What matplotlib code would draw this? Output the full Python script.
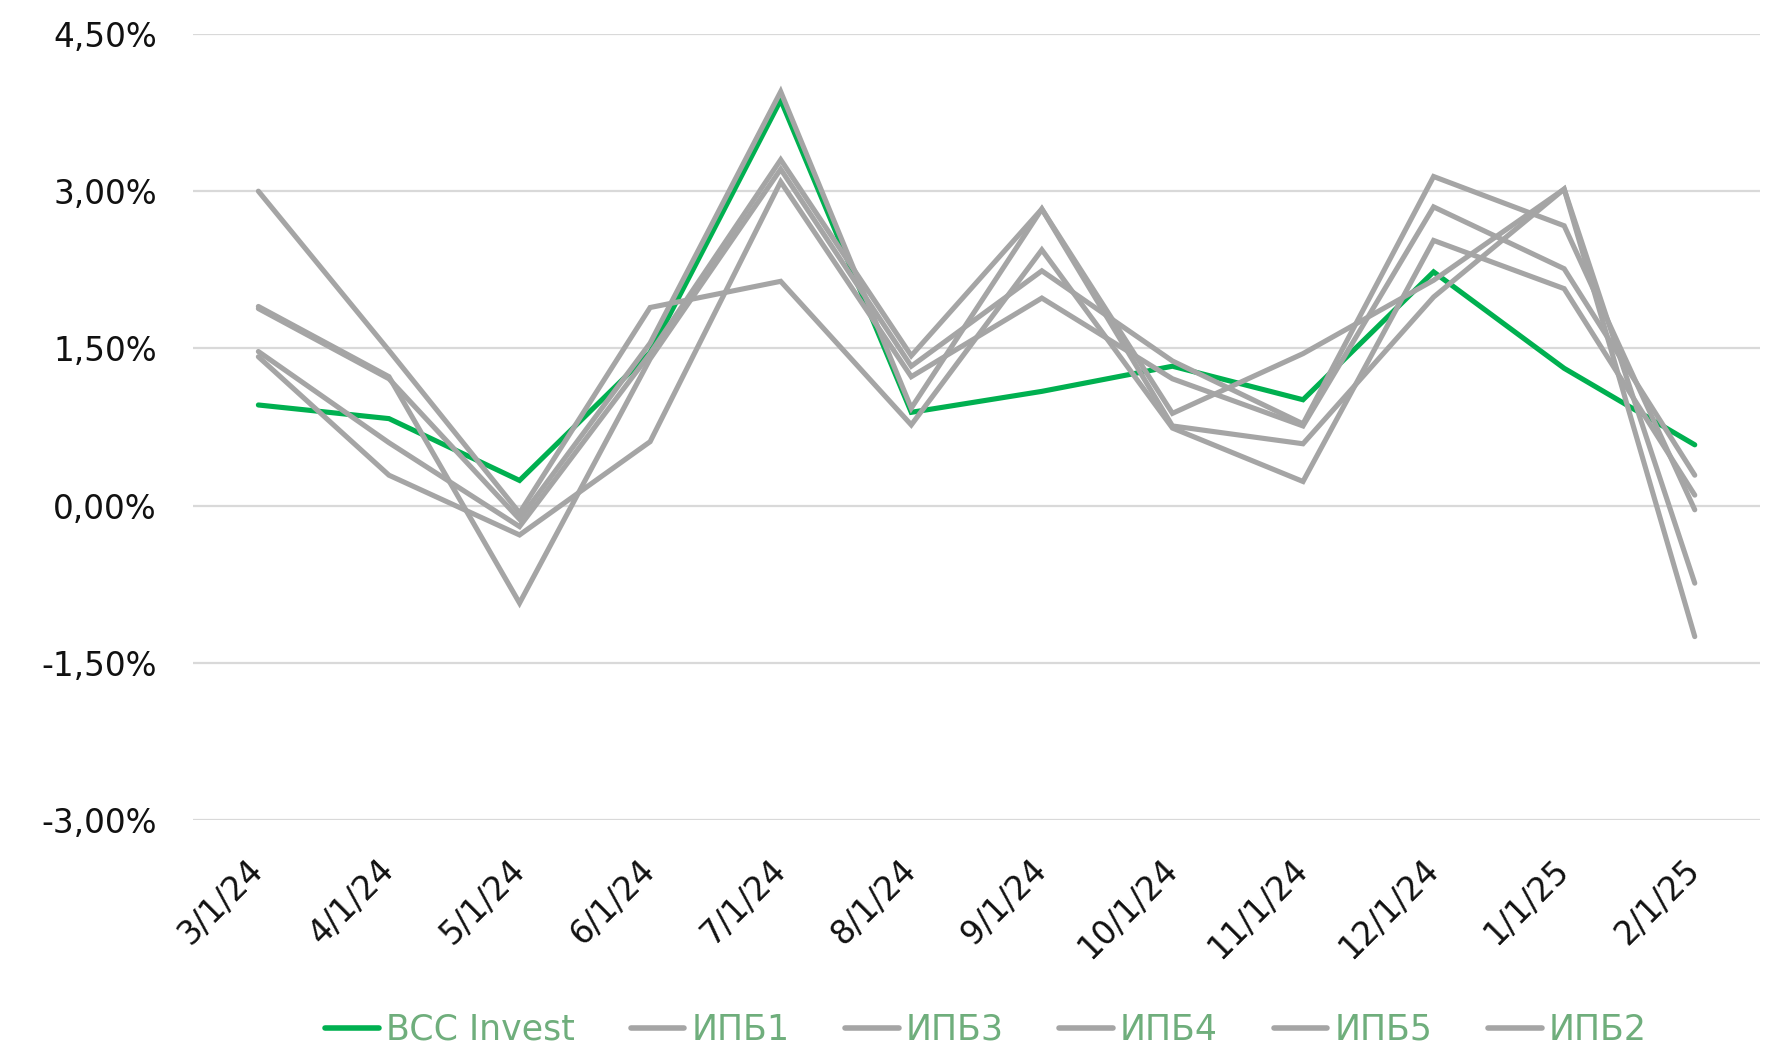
import matplotlib
matplotlib.use("Agg")
import matplotlib.pyplot as plt
from matplotlib.ticker import FuncFormatter, FixedLocator

# ---- data ----
dates = ['3/1/24', '4/1/24', '5/1/24', '6/1/24', '7/1/24', '8/1/24',
         '9/1/24', '10/1/24', '11/1/24', '12/1/24', '1/1/25', '2/1/25']

bcc_invest = [0.96, 0.83, 0.24, 1.46, 3.87, 0.89, 1.09, 1.33, 1.01, 2.23, 1.31, 0.58]
ipb1 = [3.00, 1.48, -0.07, 1.89, 2.14, 0.77, 2.44, 0.74, 0.23, 2.53, 2.07, 0.10]
ipb3 = [1.90, 1.23, -0.93, 1.40, 3.21, 1.33, 2.24, 1.38, 0.78, 3.14, 2.67, -0.04]
ipb4 = [1.88, 1.21, -0.13, 1.55, 3.95, 0.93, 2.83, 0.76, 0.59, 1.99, 3.02, -1.25]
ipb5 = [1.47, 0.60, -0.20, 1.45, 3.30, 1.43, 2.83, 0.88, 1.45, 2.15, 3.02, -0.74]
ipb2 = [1.42, 0.29, -0.28, 0.61, 3.09, 1.23, 1.98, 1.21, 0.76, 2.85, 2.26, 0.29]

series_names = ['BCC Invest', 'ИПБ1', 'ИПБ3', 'ИПБ4', 'ИПБ5', 'ИПБ2']
series_values = [bcc_invest, ipb1, ipb3, ipb4, ipb5, ipb2]

y_ticks = [-3.0, -1.5, 0.0, 1.5, 3.0, 4.5]

# ---- style ----
GREEN = '#00B050'
GRAY = '#A5A5A5'
GRID = '#D9D9D9'
LEGEND_TEXT = '#6FAE7C'

plt.rcParams['font.family'] = ['DejaVu Sans']

fig = plt.figure(figsize=(17.78, 10.49), dpi=100)
ax = fig.add_axes([0.1086, 0.2183, 0.9899 - 0.1086, 0.9676 - 0.2183])

x = list(range(len(dates)))
colors = [GREEN] + [GRAY] * 5
for name, vals, c in zip(series_names, series_values, colors):
    ax.plot(x, vals, color=c, lw=3.7, label=name,
            solid_capstyle='round', solid_joinstyle='miter')

ax.set_xlim(-0.5, len(dates) - 0.5)
ax.set_ylim(y_ticks[0], y_ticks[-1])
ax.yaxis.set_major_locator(FixedLocator(y_ticks))
ax.yaxis.set_major_formatter(FuncFormatter(lambda v, p: f"{v:.2f}".replace('.', ',') + '%'))
ax.grid(axis='y', color=GRID, lw=1.6)
ax.set_axisbelow(True)
for s in ax.spines.values():
    s.set_visible(False)

ax.set_xticks(x)
ax.set_xticklabels(dates, rotation=45, ha='right', va='center', rotation_mode='anchor')
ax.tick_params(axis='x', length=0, pad=32, labelsize=23.5, labelcolor='#111111')
ax.tick_params(axis='y', length=0, pad=26, labelsize=23.5, labelcolor='#111111')

leg = ax.legend(loc='center', bbox_to_anchor=(0.506, -0.267), ncol=6, frameon=False,
                fontsize=25, handlelength=1.55, handletextpad=0.2, columnspacing=1.6)
for t in leg.get_texts():
    t.set_color(LEGEND_TEXT)
for h in leg.get_lines():
    h.set_linewidth(4)
    h.set_solid_capstyle('round')

fig.savefig('out.png', dpi=100, facecolor='white')
